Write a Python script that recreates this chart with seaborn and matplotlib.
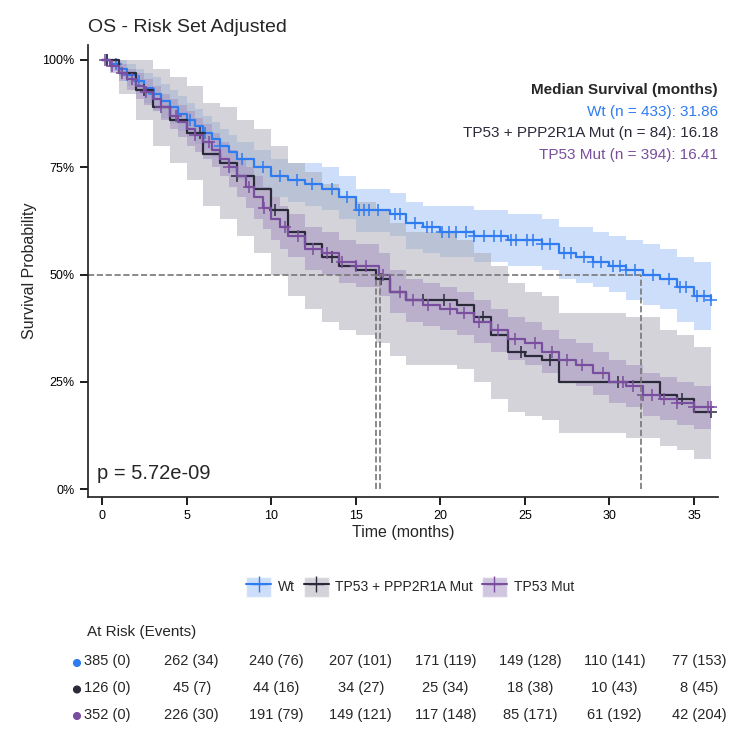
import numpy as np
import seaborn as sns
import matplotlib.pyplot as plt
from matplotlib.lines import Line2D
from matplotlib.patches import Patch

groups = ["Wt", "TP53 + PPP2R1A Mut", "TP53 Mut"]
colors = ["#2F7BF0", "#2B2A3A", "#7A4E9E"]
fills = ["#9DBEF7", "#A9A8B4", "#A48FC0"]

# step curves: (time, survival, lower, upper)
wt_t = [0, 0.5, 1, 1.5, 2, 2.5, 3, 3.5, 4, 4.5, 5, 5.5, 6, 6.5, 7, 7.5, 8, 9, 10, 11, 12, 13, 14, 15, 16, 17, 18, 19, 20, 22, 24, 25, 26, 27, 28, 29, 30, 31, 32, 33, 34, 35, 36]
wt_s = [1.0, 0.99, 0.98, 0.965, 0.95, 0.935, 0.92, 0.905, 0.89, 0.875, 0.86, 0.845, 0.83, 0.815, 0.80, 0.785, 0.77, 0.75, 0.73, 0.72, 0.71, 0.70, 0.68, 0.65, 0.65, 0.64, 0.62, 0.61, 0.60, 0.59, 0.58, 0.58, 0.57, 0.55, 0.54, 0.53, 0.52, 0.51, 0.50, 0.49, 0.47, 0.45, 0.44]
wt_lo = [1.0, 0.975, 0.96, 0.94, 0.92, 0.90, 0.88, 0.865, 0.85, 0.835, 0.82, 0.805, 0.79, 0.775, 0.76, 0.74, 0.72, 0.70, 0.68, 0.67, 0.66, 0.65, 0.63, 0.60, 0.60, 0.59, 0.56, 0.55, 0.54, 0.53, 0.52, 0.52, 0.51, 0.49, 0.48, 0.47, 0.46, 0.44, 0.43, 0.42, 0.39, 0.37, 0.35]
wt_hi = [1.0, 1.0, 1.0, 0.99, 0.98, 0.97, 0.96, 0.945, 0.93, 0.915, 0.90, 0.885, 0.87, 0.855, 0.84, 0.825, 0.81, 0.79, 0.77, 0.76, 0.76, 0.75, 0.73, 0.70, 0.70, 0.69, 0.67, 0.66, 0.66, 0.65, 0.64, 0.64, 0.63, 0.61, 0.61, 0.60, 0.59, 0.58, 0.57, 0.56, 0.54, 0.53, 0.53]

dk_t = [0, 1, 2, 3, 4, 5, 6, 7, 8, 9, 10, 11, 12, 13, 14, 15, 16.2, 17, 18, 19.5, 21, 22, 23, 24, 25, 26, 27, 29, 31, 33, 34, 35, 36]
dk_s = [1.0, 0.97, 0.93, 0.89, 0.86, 0.83, 0.78, 0.76, 0.73, 0.70, 0.65, 0.60, 0.57, 0.54, 0.52, 0.51, 0.49, 0.46, 0.44, 0.44, 0.43, 0.40, 0.36, 0.32, 0.31, 0.30, 0.25, 0.25, 0.25, 0.22, 0.21, 0.18, 0.18]
dk_lo = [1.0, 0.92, 0.86, 0.80, 0.76, 0.72, 0.66, 0.63, 0.59, 0.55, 0.50, 0.45, 0.42, 0.39, 0.37, 0.36, 0.34, 0.31, 0.29, 0.29, 0.28, 0.25, 0.21, 0.18, 0.17, 0.16, 0.13, 0.13, 0.12, 0.10, 0.09, 0.07, 0.07]
dk_hi = [1.0, 1.0, 1.0, 0.98, 0.96, 0.94, 0.90, 0.89, 0.86, 0.84, 0.80, 0.76, 0.74, 0.71, 0.68, 0.67, 0.65, 0.62, 0.60, 0.60, 0.58, 0.55, 0.52, 0.48, 0.46, 0.45, 0.41, 0.41, 0.40, 0.37, 0.36, 0.33, 0.33]

tp_t = [0, 0.5, 1, 1.5, 2, 2.5, 3, 3.5, 4, 4.5, 5, 5.5, 6, 6.5, 7, 7.5, 8, 8.5, 9, 9.5, 10, 10.5, 11, 12, 13, 14, 15, 16.4, 17, 18, 19, 20, 21, 22, 23, 24, 25, 26, 27, 28, 29, 30, 31, 32, 33, 34, 35, 36]
tp_s = [1.0, 0.985, 0.97, 0.955, 0.94, 0.925, 0.91, 0.89, 0.87, 0.855, 0.84, 0.825, 0.81, 0.79, 0.77, 0.75, 0.73, 0.705, 0.68, 0.655, 0.63, 0.61, 0.59, 0.56, 0.55, 0.53, 0.52, 0.50, 0.46, 0.44, 0.43, 0.42, 0.41, 0.39, 0.37, 0.35, 0.34, 0.32, 0.30, 0.29, 0.27, 0.25, 0.24, 0.22, 0.21, 0.20, 0.19, 0.19]
tp_lo = [1.0, 0.97, 0.95, 0.93, 0.91, 0.895, 0.88, 0.86, 0.84, 0.82, 0.80, 0.785, 0.77, 0.75, 0.73, 0.705, 0.68, 0.655, 0.63, 0.605, 0.58, 0.56, 0.54, 0.51, 0.50, 0.48, 0.47, 0.45, 0.41, 0.39, 0.38, 0.37, 0.36, 0.34, 0.32, 0.30, 0.29, 0.27, 0.25, 0.24, 0.22, 0.20, 0.19, 0.17, 0.16, 0.15, 0.14, 0.14]
tp_hi = [1.0, 1.0, 0.99, 0.98, 0.97, 0.955, 0.94, 0.92, 0.91, 0.895, 0.88, 0.865, 0.85, 0.83, 0.81, 0.79, 0.77, 0.75, 0.73, 0.705, 0.68, 0.66, 0.64, 0.61, 0.60, 0.58, 0.57, 0.55, 0.51, 0.49, 0.48, 0.47, 0.46, 0.44, 0.42, 0.40, 0.39, 0.37, 0.35, 0.34, 0.32, 0.30, 0.29, 0.27, 0.26, 0.25, 0.24, 0.24]

wt_cens = [0.3, 0.8, 1.5, 2.2, 3.1, 4.0, 5.2, 6.1, 7.0, 8.3, 9.5, 10.5, 11.5, 12.4, 13.6, 14.5, 15.2, 15.5, 15.8, 16.3, 17.3, 17.6, 18.5, 19.2, 19.5, 20.1, 20.5, 20.9, 21.5, 22.0, 22.6, 23.2, 23.6, 24.2, 24.5, 25.1, 25.5, 26.0, 26.5, 27.3, 27.7, 28.5, 29.0, 29.5, 30.2, 30.6, 31.0, 31.5, 32.6, 33.5, 34.2, 34.5, 35.2, 35.6, 36.0]
dk_cens = [0.3, 2.5, 5.8, 8.0, 10.2, 13.6, 16.5, 19.0, 20.2, 22.5, 24.8, 26.5, 30.5, 34.3, 36.0]
tp_cens = [0.2, 0.6, 1.2, 1.8, 2.6, 3.5, 4.4, 5.5, 6.3, 7.5, 8.7, 9.6, 10.8, 11.6, 12.5, 13.3, 14.2, 15.0, 15.6, 16.6, 17.6, 18.4, 19.3, 20.6, 21.4, 22.3, 23.4, 24.4, 25.6, 26.6, 27.5, 28.4, 29.6, 30.8, 31.4, 32.0, 32.5, 33.2, 34.0, 35.0, 35.8, 36.0]

medians = [31.86, 16.18, 16.41]
ns = [433, 84, 394]
risk_times = [0, 5, 10, 15, 20, 25, 30, 35]
risk_wt = ["385 (0)", "262 (34)", "240 (76)", "207 (101)", "171 (119)", "149 (128)", "110 (141)", "77 (153)"]
risk_dk = ["126 (0)", "45 (7)", "44 (16)", "34 (27)", "25 (34)", "18 (38)", "10 (43)", "8 (45)"]
risk_tp = ["352 (0)", "226 (30)", "191 (79)", "149 (121)", "117 (148)", "85 (171)", "61 (192)", "42 (204)"]

sns.set_theme(style="ticks")
plt.rcParams['font.family'] = ['Liberation Sans', 'DejaVu Sans']

fig = plt.figure(figsize=(7.5, 7.42), dpi=100)
W, H = 750, 742
ax = fig.add_axes([88 / W, 1 - 497 / H, 630 / W, 452 / H])
pxm = (694 - 102) / 35.0  # pixels per month
x0 = -(102 - 88) / pxm
x1 = x0 + 630 / pxm

curves = [(wt_t, wt_s, wt_lo, wt_hi, wt_cens),
          (dk_t, dk_s, dk_lo, dk_hi, dk_cens),
          (tp_t, tp_s, tp_lo, tp_hi, tp_cens)]
for (t, s, lo, hi, cens), c, f in zip(curves, colors, fills):
    ax.fill_between(t, lo, hi, step="post", color=f, alpha=0.5, linewidth=0)
for (t, s, lo, hi, cens), c in zip(curves, colors):
    ax.step(t, s, where="post", color=c, linewidth=1.6)
    idx = np.searchsorted(t, cens, side="right") - 1
    ax.plot(cens, np.array(s)[idx], linestyle="none", marker="+", markersize=9,
            markeredgewidth=1.1, color=c)

# median lines
ax.plot([x0, max(medians)], [0.5, 0.5], ls="--", color="#777777", lw=1.2)
for m in medians:
    ax.plot([m, m], [0, 0.5], ls="--", color="#777777", lw=1.2)

ax.set_xlim(x0, x1)
ax.set_ylim(-8 / 429, 1 + 15 / 429)
ax.set_xticks(risk_times)
ax.set_yticks([0, 0.25, 0.5, 0.75, 1.0])
ax.set_yticklabels(["0%", "25%", "50%", "75%", "100%"])
ax.tick_params(labelsize=9, colors="black")
ax.set_xlabel("Time (months)", fontsize=11.5, labelpad=2)
ax.set_ylabel("Survival Probability", fontsize=11.5)
sns.despine(ax=ax)
fig.text(88 / W, 1 - 28 / H, "OS - Risk Set Adjusted", fontsize=14, va="center")

ax.text(-0.3, 0.015, "p = 5.72e-09", fontsize=14.5, va="bottom")
ax.text(x1, 0.92, "Median Survival (months)", ha="right", fontsize=11, fontweight="bold")
for i, (g, n, m, c) in enumerate(zip(groups, ns, medians, colors)):
    ax.text(x1, 0.87 - i * 0.05, f"{g} (n = {n}): {m:.2f}", ha="right", fontsize=11, color=c)

handles = [(Patch(facecolor=f, alpha=0.5), Line2D([], [], color=c, marker="+", markersize=12))
           for c, f in zip(colors, fills)]
fig.legend(handles, groups, loc="center", bbox_to_anchor=(410 / W, 1 - 587 / H), ncol=3,
           frameon=False, fontsize=10, handlelength=1.8, handleheight=1.8,
           columnspacing=0.6, handletextpad=0.5)

fig.text(87 / W, 1 - 632 / H, "At Risk (Events)", fontsize=11, va="center")
tab = fig.add_axes([84 / W, 1 - 728 / H, 662 / W, 80 / H])
tab.set_xlim(-(102 - 84) / pxm, -(102 - 84) / pxm + 662 / pxm)
tab.set_ylim(0, 3)
tab.axis("off")
for row, (labels, c) in enumerate(zip([risk_wt, risk_dk, risk_tp], colors)):
    y = 2.5 - row
    for x, lab in zip(risk_times, labels):
        tab.text(x + 0.3, y, lab, ha="center", va="center", fontsize=10.5, clip_on=True)
    fig.patches.append(plt.Circle((77 / W, 1 - (663 + row * 26.5) / H), 0.0045,
                                  transform=fig.transFigure, color=c))

fig.savefig("out.png", dpi=100)
